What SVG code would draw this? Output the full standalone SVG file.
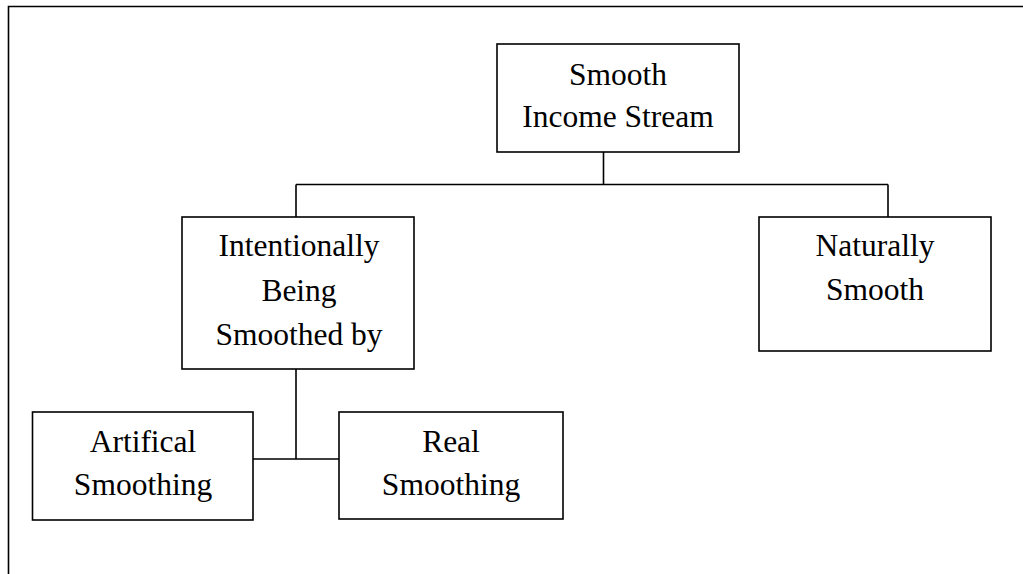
<svg xmlns="http://www.w3.org/2000/svg" width="1023" height="574" viewBox="0 0 1023 574">
<style>
.box{fill:#fff;stroke:#000;stroke-width:1.6}
.ln{fill:none;stroke:#000;stroke-width:1.6}
text{font-family:"Liberation Serif","Times New Roman",serif;font-size:31.5px;fill:#000;text-anchor:middle}
</style>
<rect x="0" y="0" width="1023" height="574" fill="#fff"/>
<path class="ln" d="M8.5,580 V6.5 H1030"/>
<g id="connectors">
<path class="ln" d="M603.5,152 V184.5 M296,184.5 H888 M296,184.5 V217 M888,184.5 V217"/>
<path class="ln" d="M296,369 V459 M253,459 H339"/>
</g>
<g id="smooth-income-stream">
<rect class="box" x="497" y="44" width="242" height="108"/>
<text x="618" y="85">Smooth</text>
<text x="618" y="127">Income Stream</text>
</g>
<g id="intentionally">
<rect class="box" x="182" y="217" width="232" height="152"/>
<text x="299" y="256">Intentionally</text>
<text x="299" y="300.5">Being</text>
<text x="299" y="345">Smoothed by</text>
</g>
<g id="naturally">
<rect class="box" x="759" y="217" width="232" height="134"/>
<text x="875" y="256">Naturally</text>
<text x="875" y="300">Smooth</text>
</g>
<g id="artifical">
<rect class="box" x="32.5" y="412" width="220.5" height="108"/>
<text x="143" y="451.5">Artifical</text>
<text x="143" y="495">Smoothing</text>
</g>
<g id="real">
<rect class="box" x="339" y="412" width="224" height="107"/>
<text x="451" y="451.5">Real</text>
<text x="451" y="495">Smoothing</text>
</g>
</svg>
